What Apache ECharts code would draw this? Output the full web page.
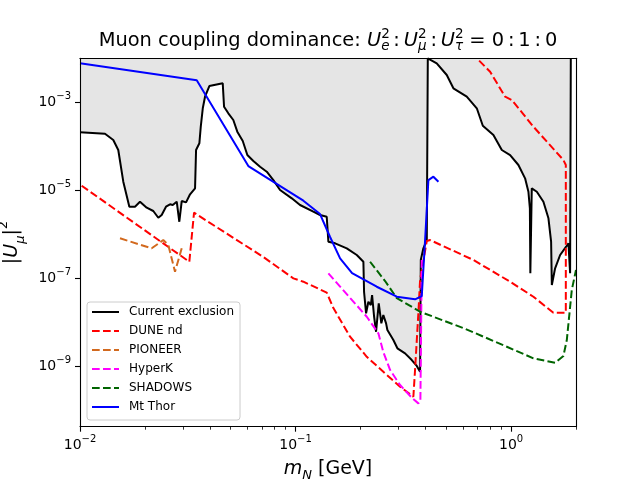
<!DOCTYPE html>
<html>
<head>
<meta charset="utf-8">
<script src="https://cdn.jsdelivr.net/npm/echarts@6/dist/echarts.min.js"></script>
<style>
html, body { margin: 0; padding: 0; background: #fff; }
#main { width: 640px; height: 480px; }
</style>
</head>
<body>
<div id="main"></div>
<script>
// heavy neutral limits, muon coupling only
var exclusionMass = [0.01, 0.01306, 0.01427, 0.01505, 0.01588, 0.01694, 0.01799, 0.01898, 0.02039, 0.02188,
    0.02308, 0.02393, 0.02506, 0.02616, 0.02693, 0.02810, 0.02889, 0.02964, 0.03104, 0.03240,
    0.03418, 0.03455, 0.03579, 0.03633, 0.03712, 0.03802, 0.03981, 0.04594, 0.04659, 0.04876,
    0.05143, 0.05367, 0.05689, 0.05975, 0.06371, 0.06843, 0.07351, 0.07889, 0.08474, 0.09603,
    0.1049, 0.1209, 0.1299, 0.1395, 0.1420, 0.1526, 0.1728, 0.1923, 0.2064, 0.2079,
    0.2124, 0.2177, 0.2234, 0.2265, 0.2314, 0.2363, 0.2432, 0.2500, 0.2554, 0.2630,
    0.2667, 0.2843, 0.2968, 0.3221, 0.3460, 0.3650, 0.3782, 0.3811, 0.3917, 0.4063,
    0.4107, 0.4518, 0.5029, 0.5398, 0.6227, 0.6931, 0.7391, 0.8277, 0.9054, 0.9895,
    1.081, 1.161, 1.203, 1.222, 1.228, 1.247, 1.316, 1.412, 1.490, 1.533,
    1.545, 1.600, 1.688, 1.800, 1.845, 1.878, 1.892];
var exclusionU2 = [2.08e-4, 1.93e-4, 1.39e-4, 8.24e-5, 1.57e-5, 4.24e-6, 4.24e-6, 5.51e-6, 4.03e-6, 3.39e-6,
    2.38e-6, 2.75e-6, 4.24e-6, 4.81e-6, 4.64e-6, 5.51e-6, 1.93e-6, 5.71e-6, 5.33e-6, 8.11e-6,
    1.11e-5, 8.24e-5, 1.17e-4, 2.79e-4, 7.31e-4, 1.34e-3, 2.34e-3, 2.70e-3, 7.94e-4, 5.62e-4,
    3.96e-4, 2.15e-4, 1.32e-4, 6.34e-5, 4.63e-5, 3.44e-5, 2.65e-5, 1.71e-5, 1.02e-5, 6.58e-6,
    4.64e-6, 3.27e-6, 2.75e-6, 2.51e-6, 6.79e-7, 6.24e-7, 4.81e-7, 3.39e-7, 2.38e-7, 4.89e-8,
    1.60e-8, 2.94e-8, 2.47e-8, 4.17e-8, 1.34e-8, 6.11e-9, 2.70e-8, 9.48e-9, 1.47e-8, 9.48e-9,
    6.68e-9, 3.96e-9, 2.57e-9, 1.97e-9, 1.39e-9, 1.02e-9, 7.53e-10, 2.61e-7, 4.81e-7, 7.41e-7,
    1e-2, 7.70e-3, 4.17e-3, 2.08e-3, 1.34e-3, 7.31e-4, 2.94e-4, 1.81e-4, 8.24e-5, 6.34e-5,
    3.76e-5, 1.87e-5, 9.29e-6, 3.90e-6, 1.30e-7, 1.11e-5, 9.29e-6, 5.51e-6, 2.31e-6, 6.79e-7,
    7.05e-8, 1.69e-7, 3.39e-7, 5.23e-7, 6.24e-7, 1.30e-7, 1e-2];

var duneMass = [0.01018, 0.03215, 0.03381, 0.07088, 0.09768, 0.1087, 0.1395, 0.1498, 0.1790, 0.2140,
    0.2554, 0.3054, 0.3520, 0.3584, 0.3713, 0.3782, 0.4063, 0.4209, 0.6685, 0.9895,
    1.269, 1.571, 1.794, 1.794, 1.748, 1.269, 1.007, 0.9380, 0.7991, 0.6931];
var duneU2 = [1.27e-5, 2.38e-7, 3.10e-6, 3.05e-7, 1.0e-7, 8.38e-8, 4.75e-8, 2.11e-8, 4.71e-9, 1.65e-9,
    7.53e-10, 3.44e-10, 2.04e-10, 8.24e-10, 1.60e-8, 9.14e-8, 7.05e-7, 7.41e-7, 2.61e-7, 8.38e-8,
    3.82e-8, 1.65e-8, 1.65e-8, 3.76e-5, 4.89e-5, 2.79e-4, 1.13e-3, 1.34e-3, 4.96e-3, 1e-2];

var pioneerMass = [0.01533, 0.02151, 0.02434, 0.02569, 0.02759, 0.02964];
var pioneerU2 = [8.11e-7, 4.81e-7, 7.41e-7, 5.71e-7, 1.41e-7, 4.81e-7];

var hyperkMass = [0.1420, 0.2140, 0.2422, 0.2554, 0.2746, 0.3054, 0.3472, 0.3713, 0.3794, 0.3823, 0.3851];
var hyperkU2 = [1.30e-7, 1.34e-8, 5.62e-9, 2.11e-9, 8.24e-10, 3.76e-10, 1.91e-10, 1.44e-10, 1.71e-10, 6.68e-9, 2.89e-7];

var shadowsMass = [0.2217, 0.2602, 0.2949, 0.3782, 0.6007, 0.9550, 1.269, 1.600, 1.748, 1.813, 1.912, 2.0];
var shadowsU2 = [2.38e-7, 8.69e-8, 3.56e-8, 1.74e-8, 7.41e-9, 2.79e-9, 1.52e-9, 1.21e-9, 1.71e-9, 3.96e-9, 5.42e-8, 1.55e-7];

var thorMass = [0.01, 0.03480, 0.06039, 0.1087, 0.1299, 0.1446, 0.1609, 0.1829, 0.2381, 0.2949,
    0.3584, 0.3851, 0.3990, 0.4133, 0.4360, 0.4600];
var thorU2 = [7.70e-3, 3.16e-3, 3.56e-5, 5.81e-6, 2.89e-6, 8.69e-7, 2.85e-7, 1.32e-7, 6.44e-8, 3.82e-8,
    3.33e-8, 3.96e-8, 7.41e-7, 1.71e-5, 2.04e-5, 1.57e-5];

var xMajorTicks = [0.01, 0.1, 1];
var xMinorTicks = [0.02, 0.03, 0.04, 0.05, 0.06, 0.07, 0.08, 0.09,
    0.2, 0.3, 0.4, 0.5, 0.6, 0.7, 0.8, 0.9, 2];
var yMajorTicks = [1e-9, 1e-7, 1e-5, 1e-3];

var FONT = 'DejaVu Sans';
var DASH = [7.7, 3.3];
var THIN = '\u2009';

function pairs(xs, ys) {
    var out = [];
    for (var i = 0; i < xs.length; i++) out.push([xs[i], ys[i]]);
    return out;
}

function powLabel(v) {
    var e = Math.round(Math.log10(v));
    return '{b|10}{s|' + (e < 0 ? '\u2212' : '') + Math.abs(e) + '}';
}

var tickRich = {
    b: { fontSize: 14, fontFamily: FONT, color: '#000', lineHeight: 22 },
    s: { fontSize: 10, fontFamily: FONT, color: '#000', lineHeight: 11, verticalAlign: 'top' }
};

function lineSeries(name, xs, ys, color, dashed) {
    return {
        name: name,
        type: 'line',
        data: pairs(xs, ys),
        symbol: 'none',
        showSymbol: false,
        smooth: false,
        clip: true,
        animation: false,
        lineStyle: { color: color, width: 2, type: dashed ? DASH : 'solid' },
        itemStyle: { color: color },
        emphasis: { disabled: true }
    };
}

var chart = echarts.init(document.getElementById('main'), null, { renderer: 'canvas' });

var exclusion = lineSeries('Current exclusion', exclusionMass, exclusionU2, '#000000', false);
exclusion.areaStyle = { origin: 'end', color: '#e5e5e5', opacity: 1 };

// superscript token has ~zero width so the subscript sits right under it
var titleRich = {
    r: { fontSize: 19.4, fontFamily: FONT, color: '#000', lineHeight: 26, align: 'left' },
    i: { fontSize: 19.4, fontFamily: FONT, fontStyle: 'italic', color: '#000', lineHeight: 26, align: 'left' },
    p: { fontSize: 13.5, fontFamily: FONT, color: '#000', lineHeight: 13, verticalAlign: 'top', align: 'left', width: 0.01 },
    q: { fontSize: 13.5, fontFamily: FONT, fontStyle: 'italic', color: '#000', lineHeight: 13, verticalAlign: 'bottom', align: 'left' }
};
var sep = '{r|' + THIN + ':' + THIN + '}';
var titleText = '{r|Muon coupling dominance: }' +
    '{i|U}{p|2}{q|e}' + sep +
    '{i|U}{p|2}{q|\u03bc}' + sep +
    '{i|U}{p|2}{q|\u03c4}' +
    '{r| = 0' + THIN + ':' + THIN + '1' + THIN + ':' + THIN + '0}';

var option = {
    backgroundColor: '#ffffff',
    animation: false,
    title: {
        text: titleText,
        left: 328,
        top: 27.5,
        padding: 0,
        textAlign: 'center',
        textStyle: { rich: titleRich, fontSize: 19.4, fontFamily: FONT, fontWeight: 'normal' }
    },
    grid: { left: 80, top: 58.3, right: 64, bottom: 53.3, containLabel: false, outerBoundsMode: 'none' },
    legend: {
        data: ['Current exclusion', 'DUNE nd', 'PIONEER', 'HyperK', 'SHADOWS', 'Mt Thor'],
        orient: 'vertical',
        left: 87,
        top: 302,
        padding: [3, 6, 6, 4],
        itemWidth: 27,
        itemHeight: 14,
        itemGap: 5,
        selectedMode: false,
        backgroundColor: 'rgba(255,255,255,0.8)',
        borderColor: '#cccccc',
        borderWidth: 1,
        borderRadius: 3,
        // hide the marker circle ECharts puts on line legend icons
        itemStyle: { color: 'rgba(0,0,0,0)', borderColor: 'rgba(0,0,0,0)', borderWidth: 0 },
        textStyle: { fontFamily: FONT, fontSize: 12, color: '#000', lineHeight: 14, padding: [0, 0, 0, 5] },
        z: 10
    },
    xAxis: [{
        type: 'log',
        logBase: 10,
        min: 0.01,
        max: 2,
        position: 'bottom',
        z: 6,
        name: '{i|m}{s|N}{r| [GeV]}',
        nameLocation: 'middle',
        nameGap: 29,
        nameTextStyle: {
            rich: {
                r: { fontSize: 19, fontFamily: FONT, color: '#000', lineHeight: 26 },
                i: { fontSize: 19, fontFamily: FONT, fontStyle: 'italic', color: '#000', lineHeight: 26 },
                s: { fontSize: 13, fontFamily: FONT, fontStyle: 'italic', color: '#000', lineHeight: 13, verticalAlign: 'bottom' }
            }
        },
        axisLine: { show: true, lineStyle: { color: '#000', width: 1.1 } },
        axisTick: { show: true, length: 5, lineStyle: { color: '#000', width: 1.1 }, customValues: xMajorTicks },
        axisLabel: { show: true, margin: 8, formatter: powLabel, rich: tickRich, customValues: xMajorTicks },
        splitLine: { show: false },
        minorTick: { show: false }
    }, {
        type: 'log',
        logBase: 10,
        min: 0.01,
        max: 2,
        position: 'bottom',
        z: 6,
        axisLine: { show: false },
        axisTick: { show: true, length: 3, lineStyle: { color: '#000', width: 0.8 }, customValues: xMinorTicks },
        axisLabel: { show: false },
        splitLine: { show: false }
    }, {
        type: 'log',
        logBase: 10,
        min: 0.01,
        max: 2,
        position: 'top',
        z: 6,
        axisLine: { show: true, onZero: false, lineStyle: { color: '#000', width: 1.1 } },
        axisTick: { show: false },
        axisLabel: { show: false },
        splitLine: { show: false }
    }],
    yAxis: [{
        type: 'log',
        logBase: 10,
        min: 4.25e-11,
        max: 1e-2,
        position: 'left',
        z: 6,
        name: '{r||}{i|U}{s|\u03bc}{r||}{p|2}',
        nameLocation: 'middle',
        nameRotate: 90,
        nameGap: 46,
        nameTextStyle: {
            rich: {
                r: { fontSize: 19, fontFamily: FONT, color: '#000', lineHeight: 30 },
                i: { fontSize: 19, fontFamily: FONT, fontStyle: 'italic', color: '#000', lineHeight: 30 },
                s: { fontSize: 13, fontFamily: FONT, fontStyle: 'italic', color: '#000', lineHeight: 13, verticalAlign: 'bottom' },
                p: { fontSize: 13, fontFamily: FONT, color: '#000', lineHeight: 13, verticalAlign: 'top' }
            }
        },
        axisLine: { show: true, onZero: false, lineStyle: { color: '#000', width: 1.1 } },
        axisTick: { show: true, length: 5, lineStyle: { color: '#000', width: 1.1 }, customValues: yMajorTicks },
        axisLabel: { show: true, margin: 9, formatter: powLabel, rich: tickRich, customValues: yMajorTicks },
        splitLine: { show: false },
        minorTick: { show: false }
    }, {
        type: 'log',
        logBase: 10,
        min: 4.25e-11,
        max: 1e-2,
        position: 'right',
        z: 6,
        axisLine: { show: true, onZero: false, lineStyle: { color: '#000', width: 1.1 } },
        axisTick: { show: false },
        axisLabel: { show: false },
        splitLine: { show: false }
    }],
    series: [
        exclusion,
        lineSeries('DUNE nd', duneMass, duneU2, '#ff0000', true),
        lineSeries('PIONEER', pioneerMass, pioneerU2, '#d2691e', true),
        lineSeries('HyperK', hyperkMass, hyperkU2, '#ff00ff', true),
        lineSeries('SHADOWS', shadowsMass, shadowsU2, '#006400', true),
        lineSeries('Mt Thor', thorMass, thorU2, '#0000ff', false)
    ]
};

chart.setOption(option);
</script>
</body>
</html>
